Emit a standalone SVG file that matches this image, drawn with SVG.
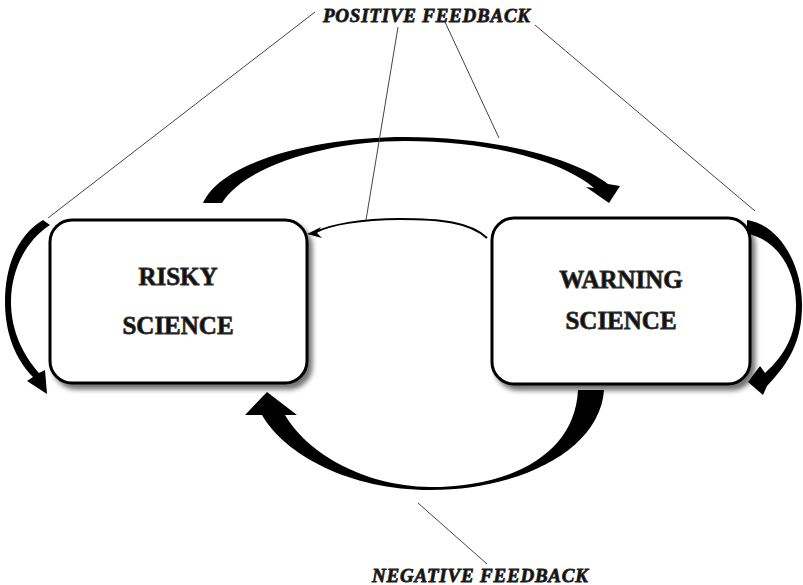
<svg xmlns="http://www.w3.org/2000/svg" width="803" height="585" viewBox="0 0 803 585">
<defs>
<filter id="sh" x="-10%" y="-10%" width="125%" height="130%">
<feGaussianBlur in="SourceAlpha" stdDeviation="2.5"/>
<feOffset dx="4" dy="5" result="b"/>
<feComponentTransfer><feFuncA type="linear" slope="0.55"/></feComponentTransfer>
<feMerge><feMergeNode/><feMergeNode in="SourceGraphic"/></feMerge>
</filter>
<style>
.box{fill:#fff;stroke:#000;stroke-width:3}
.lbl{font-family:"Liberation Serif",serif;font-weight:bold;font-size:25px;text-anchor:middle;fill:#111;stroke:#333;stroke-width:0.8}
.fb{font-family:"Liberation Serif",serif;font-weight:bold;font-style:italic;font-size:19px;fill:#111;stroke:#222;stroke-width:0.8}
.arr{fill:#000}
.lead{stroke:#444;stroke-width:1;fill:none}
</style>
</defs>
<rect width="803" height="585" fill="#fff"/>
<g id="connectors">
<path class="arr" d="M203,203 C222,160 320,137 405,137 C500,137 578,160 608,184 L620,186 L609,203 L586,187 L594,188 C565,163 495,141 405,141 C330,141 245,165 222,203 Z"/>
<path class="arr" d="M604,390 C600,450 520,490 430,490 C350,490 285,455 262,415 L245,415 L267,392 L297,415 L285,415 C305,450 360,486 430,487 C510,487 575,455 578,390 Z"/>
<path class="arr" d="M43,220 L50,225 C24,242 11,272 11,302 C11,332 24,356 39,373 L45,370 L47,394 L27,381 L33,377 C16,360 5,334 5,302 C5,265 18,235 43,220 Z"/>
<path class="arr" d="M747,220 C780,225 802,265 802,305 C802,340 790,362 767,386 L763,395 L748,382 L760,366 L765,373 C785,355 796,335 796,305 C796,268 775,238 747,234 Z"/>
<path d="M487,238 C470,222 440,219 400,219 C360,219 330,225 316,232" fill="none" stroke="#000" stroke-width="2"/>
<path class="arr" d="M307,234 L321,227 L317,233 L322,238 Z"/>
<line class="lead" x1="315" y1="12" x2="48" y2="218"/>
<line class="lead" x1="398" y1="27" x2="366" y2="220"/>
<line class="lead" x1="445" y1="22" x2="499" y2="138"/>
<line class="lead" x1="535" y1="25" x2="755" y2="211"/>
<line class="lead" x1="418" y1="503" x2="487" y2="564"/>
</g>
<g id="risky-science">
<rect class="box" x="50" y="220" width="257" height="163" rx="22" filter="url(#sh)"/>
<text class="lbl" x="178" y="285">RISKY</text>
<text class="lbl" x="178" y="334">SCIENCE</text>
</g>
<g id="warning-science">
<rect class="box" x="492" y="218" width="258" height="166" rx="22" filter="url(#sh)"/>
<text class="lbl" x="621" y="288">WARNING</text>
<text class="lbl" x="621" y="329">SCIENCE</text>
</g>
<g id="positive-feedback">
<text class="fb" x="323" y="22" textLength="207" lengthAdjust="spacing">POSITIVE FEEDBACK</text>
</g>
<g id="negative-feedback">
<text class="fb" x="372" y="582" textLength="216" lengthAdjust="spacing">NEGATIVE FEEDBACK</text>
</g>
</svg>
